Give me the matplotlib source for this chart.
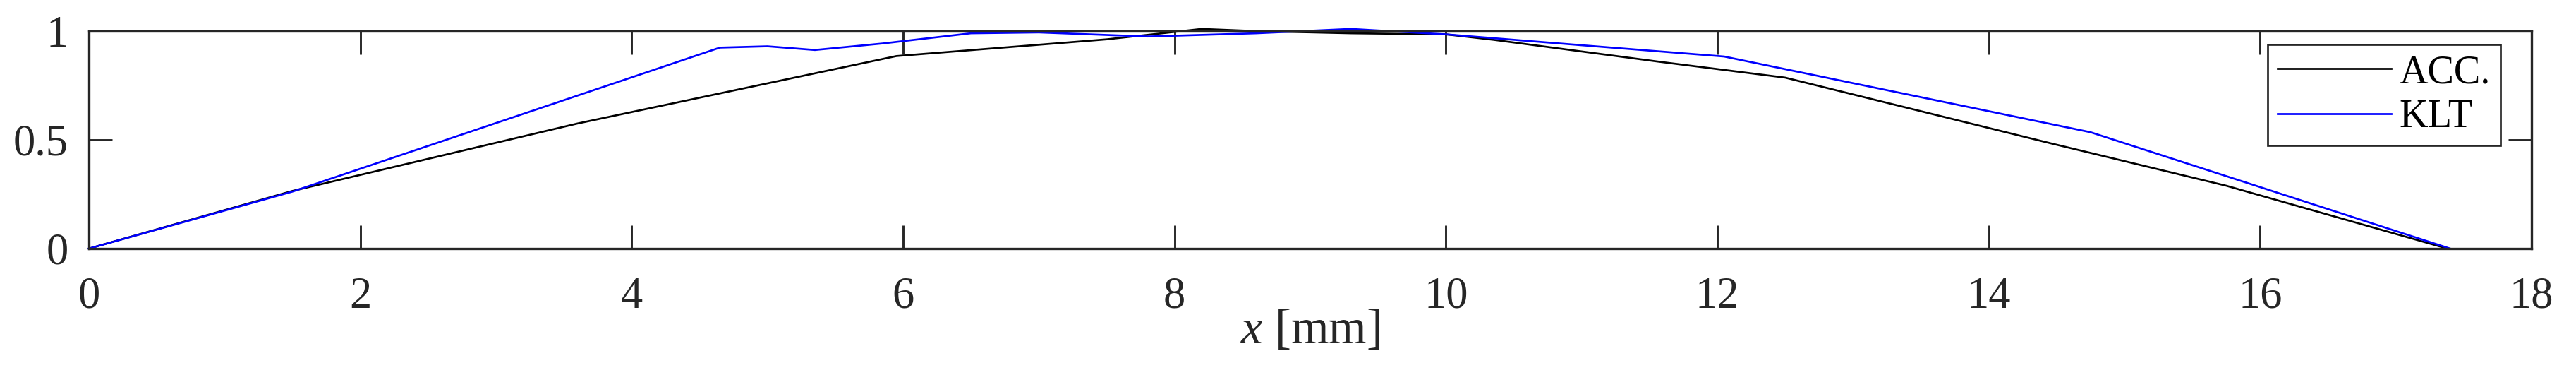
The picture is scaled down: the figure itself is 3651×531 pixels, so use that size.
import numpy as np
import matplotlib
matplotlib.use("Agg")
import matplotlib.pyplot as plt

# values
acc_x = [0, 1.5, 3.6, 5.95, 7.5, 8.2, 8.6, 9.3, 10.0, 10.35, 11.56, 12.5, 14.45, 15.75, 17.38]
acc_y = [0, 0.265, 0.575, 0.885, 0.962, 1.01, 1.0, 0.99, 0.985, 0.96, 0.86, 0.786, 0.485, 0.289, 0]

klt_x = [0, 1.5, 4.65, 5.0, 5.35, 5.85, 6.5, 7.0, 7.8, 8.6, 9.3, 10.0, 11.0, 12.05, 14.75, 17.4]
klt_y = [0, 0.262, 0.924, 0.93, 0.913, 0.943, 0.99, 0.994, 0.975, 0.99, 1.01, 0.985, 0.935, 0.883, 0.535, 0]

x_ticks = [0, 2, 4, 6, 8, 10, 12, 14, 16, 18]
y_ticks = [0, 0.5, 1]
y_ticklabels = ["0", "0.5", "1"]

plt.rcParams["font.family"] = ["Liberation Serif", "DejaVu Serif"]
plt.rcParams["mathtext.fontset"] = "custom"
plt.rcParams["mathtext.it"] = "Liberation Serif:italic"
plt.rcParams["mathtext.rm"] = "Liberation Serif"

axcol = "#262626"

fig = plt.figure(figsize=(3651 / 300, 531 / 300), dpi=300)
ax = fig.add_axes([126 / 3651, 179 / 531, 3462 / 3651, 308 / 531])

# matlab-like: lines not clipped at the frame
ax.plot(acc_x, acc_y, color="black", lw=0.65, label="ACC.", clip_on=False)
ax.plot(klt_x, klt_y, color="blue", lw=0.65, label="KLT", clip_on=False)

ax.set_xlim(0, 18)
ax.set_ylim(0, 1)
ax.set_xticks(x_ticks)
ax.set_yticks(y_ticks)
ax.set_yticklabels(y_ticklabels)

for s in ax.spines.values():
    s.set_color(axcol)
    s.set_linewidth(0.8)

ax.tick_params(axis="both", which="major", direction="in", length=7.9, width=0.7,
               color=axcol, labelcolor=axcol, labelsize=15,
               top=True, right=True)
ax.tick_params(axis="x", pad=9.5)
ax.tick_params(axis="y", pad=7)

ax.set_xlabel(r"$x$ [mm]", fontsize=16.5, color=axcol, labelpad=-3)

leg = ax.legend(loc="upper right", bbox_to_anchor=(0.9873, 0.938), borderaxespad=0,
                fontsize=13.5, fancybox=False, framealpha=1, edgecolor=axcol,
                handlelength=2.87, handletextpad=0.2, borderpad=0.25, labelspacing=0.2)
leg.get_frame().set_linewidth(0.65)

fig.savefig("out.png", dpi=300)
